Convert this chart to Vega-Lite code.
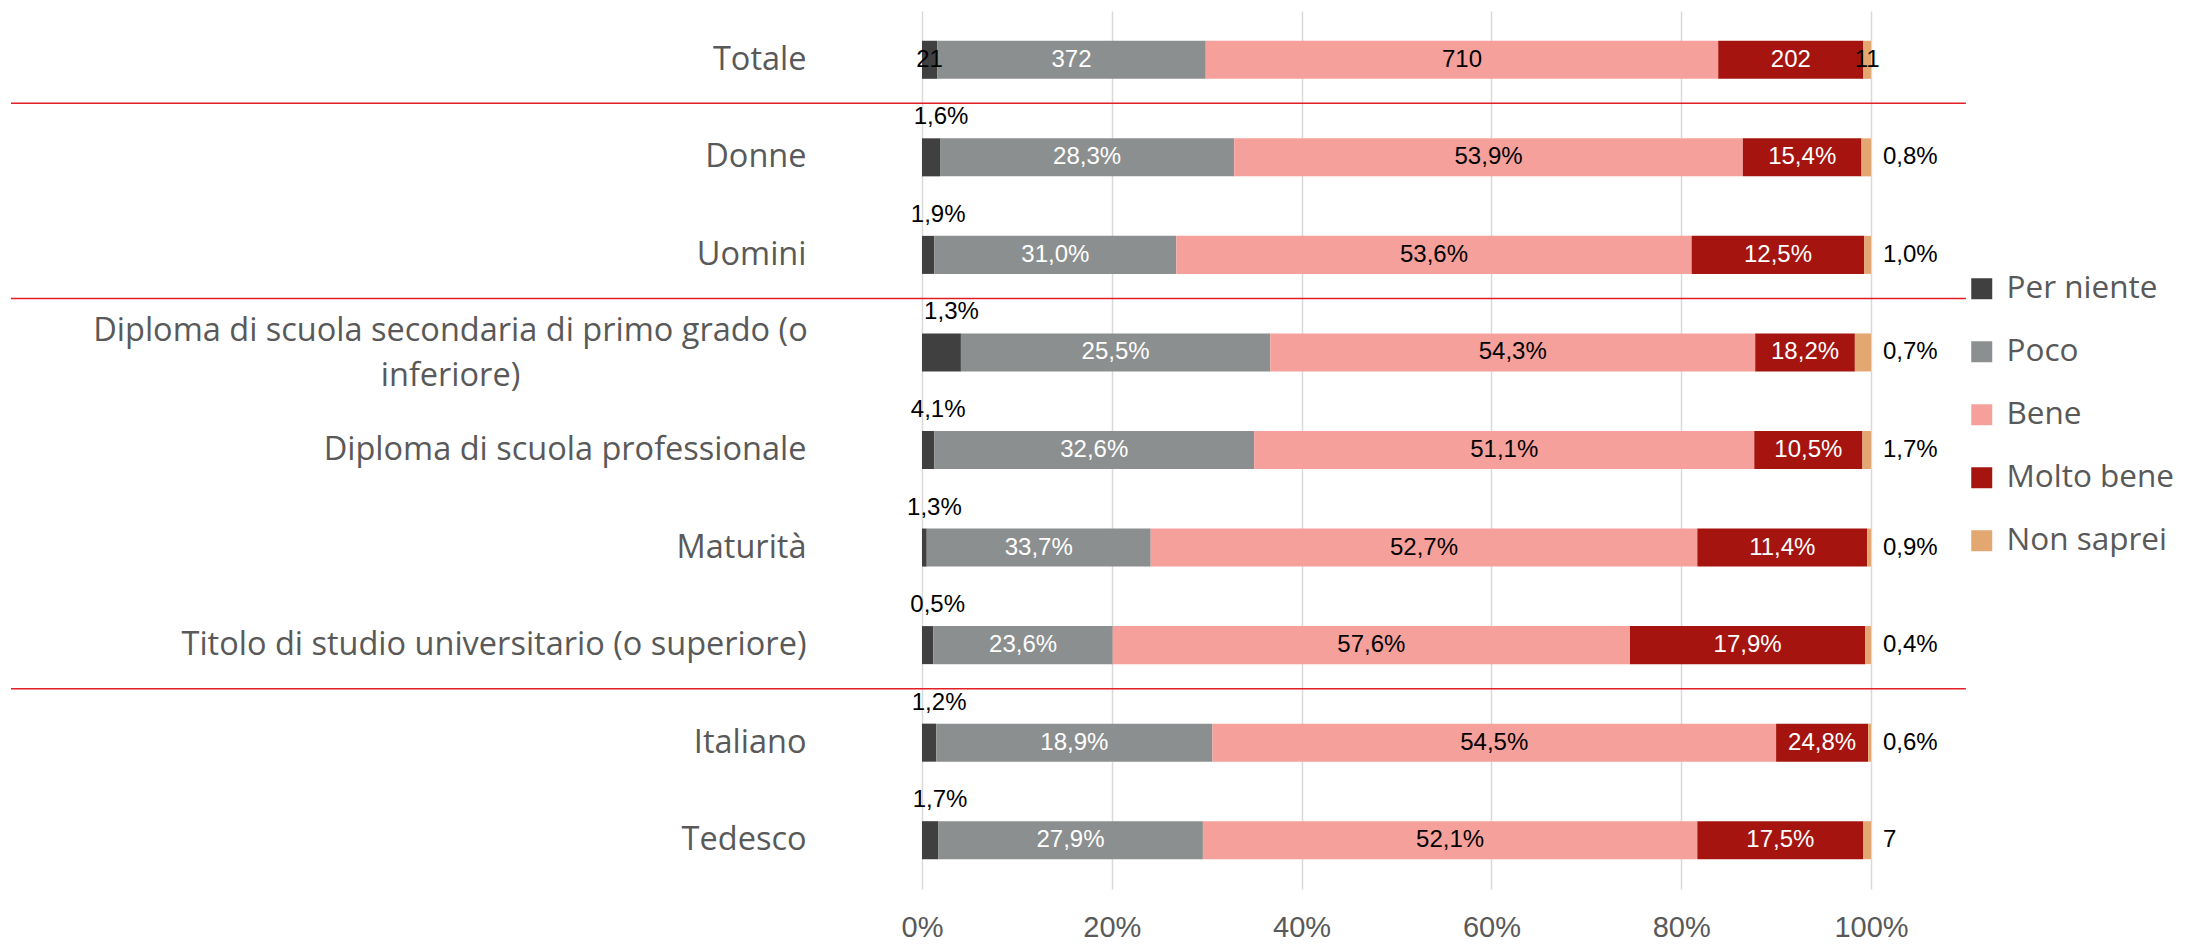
{
  "$schema": "https://vega.github.io/schema/vega-lite/v6.json",
  "width": 949,
  "height": 878,
  "autosize": {"type": "none"},
  "padding": {"left": 922, "top": 11, "right": 316, "bottom": 56},
  "background": "white",
  "config": {"view": {"stroke": null}, "font": "Open Sans"},
  "data": {"values": [
    {"cat": "Totale", "seg": "Per niente", "k": 1, "value": 1.6, "label": "21"},
    {"cat": "Totale", "seg": "Poco", "k": 2, "value": 28.3, "label": "372"},
    {"cat": "Totale", "seg": "Bene", "k": 3, "value": 54.0, "label": "710"},
    {"cat": "Totale", "seg": "Molto bene", "k": 4, "value": 15.3, "label": "202"},
    {"cat": "Totale", "seg": "Non saprei", "k": 5, "value": 0.8, "label": "11"},
    {"cat": "Donne", "seg": "Per niente", "k": 1, "value": 1.9, "label": "1,6%"},
    {"cat": "Donne", "seg": "Poco", "k": 2, "value": 31.0, "label": "28,3%"},
    {"cat": "Donne", "seg": "Bene", "k": 3, "value": 53.6, "label": "53,9%"},
    {"cat": "Donne", "seg": "Molto bene", "k": 4, "value": 12.5, "label": "15,4%"},
    {"cat": "Donne", "seg": "Non saprei", "k": 5, "value": 1.0, "label": "0,8%"},
    {"cat": "Uomini", "seg": "Per niente", "k": 1, "value": 1.3, "label": "1,9%"},
    {"cat": "Uomini", "seg": "Poco", "k": 2, "value": 25.5, "label": "31,0%"},
    {"cat": "Uomini", "seg": "Bene", "k": 3, "value": 54.3, "label": "53,6%"},
    {"cat": "Uomini", "seg": "Molto bene", "k": 4, "value": 18.2, "label": "12,5%"},
    {"cat": "Uomini", "seg": "Non saprei", "k": 5, "value": 0.7, "label": "1,0%"},
    {"cat": "Diploma di scuola secondaria di primo grado (o inferiore)", "seg": "Per niente", "k": 1, "value": 4.1, "label": "1,3%"},
    {"cat": "Diploma di scuola secondaria di primo grado (o inferiore)", "seg": "Poco", "k": 2, "value": 32.6, "label": "25,5%"},
    {"cat": "Diploma di scuola secondaria di primo grado (o inferiore)", "seg": "Bene", "k": 3, "value": 51.1, "label": "54,3%"},
    {"cat": "Diploma di scuola secondaria di primo grado (o inferiore)", "seg": "Molto bene", "k": 4, "value": 10.5, "label": "18,2%"},
    {"cat": "Diploma di scuola secondaria di primo grado (o inferiore)", "seg": "Non saprei", "k": 5, "value": 1.7, "label": "0,7%"},
    {"cat": "Diploma di scuola professionale", "seg": "Per niente", "k": 1, "value": 1.3, "label": "4,1%"},
    {"cat": "Diploma di scuola professionale", "seg": "Poco", "k": 2, "value": 33.7, "label": "32,6%"},
    {"cat": "Diploma di scuola professionale", "seg": "Bene", "k": 3, "value": 52.7, "label": "51,1%"},
    {"cat": "Diploma di scuola professionale", "seg": "Molto bene", "k": 4, "value": 11.4, "label": "10,5%"},
    {"cat": "Diploma di scuola professionale", "seg": "Non saprei", "k": 5, "value": 0.9, "label": "1,7%"},
    {"cat": "Maturità", "seg": "Per niente", "k": 1, "value": 0.5, "label": "1,3%"},
    {"cat": "Maturità", "seg": "Poco", "k": 2, "value": 23.6, "label": "33,7%"},
    {"cat": "Maturità", "seg": "Bene", "k": 3, "value": 57.6, "label": "52,7%"},
    {"cat": "Maturità", "seg": "Molto bene", "k": 4, "value": 17.9, "label": "11,4%"},
    {"cat": "Maturità", "seg": "Non saprei", "k": 5, "value": 0.4, "label": "0,9%"},
    {"cat": "Titolo di studio universitario (o superiore)", "seg": "Per niente", "k": 1, "value": 1.2, "label": "0,5%"},
    {"cat": "Titolo di studio universitario (o superiore)", "seg": "Poco", "k": 2, "value": 18.9, "label": "23,6%"},
    {"cat": "Titolo di studio universitario (o superiore)", "seg": "Bene", "k": 3, "value": 54.5, "label": "57,6%"},
    {"cat": "Titolo di studio universitario (o superiore)", "seg": "Molto bene", "k": 4, "value": 24.8, "label": "17,9%"},
    {"cat": "Titolo di studio universitario (o superiore)", "seg": "Non saprei", "k": 5, "value": 0.6, "label": "0,4%"},
    {"cat": "Italiano", "seg": "Per niente", "k": 1, "value": 1.5, "label": "1,2%"},
    {"cat": "Italiano", "seg": "Poco", "k": 2, "value": 29.1, "label": "18,9%"},
    {"cat": "Italiano", "seg": "Bene", "k": 3, "value": 59.4, "label": "54,5%"},
    {"cat": "Italiano", "seg": "Molto bene", "k": 4, "value": 9.7, "label": "24,8%"},
    {"cat": "Italiano", "seg": "Non saprei", "k": 5, "value": 0.3, "label": "0,6%"},
    {"cat": "Tedesco", "seg": "Per niente", "k": 1, "value": 1.7, "label": "1,7%"},
    {"cat": "Tedesco", "seg": "Poco", "k": 2, "value": 27.9, "label": "27,9%"},
    {"cat": "Tedesco", "seg": "Bene", "k": 3, "value": 52.1, "label": "52,1%"},
    {"cat": "Tedesco", "seg": "Molto bene", "k": 4, "value": 17.5, "label": "17,5%"},
    {"cat": "Tedesco", "seg": "Non saprei", "k": 5, "value": 0.8, "label": "7"}
  ]},
  "encoding": {
    "y": {
      "field": "cat", "type": "nominal",
      "sort": ["Totale", "Donne", "Uomini", "Diploma di scuola secondaria di primo grado (o inferiore)", "Diploma di scuola professionale", "Maturità", "Titolo di studio universitario (o superiore)", "Italiano", "Tedesco"],
      "scale": {"paddingInner": 0.61, "paddingOuter": 0.305},
      "axis": {
        "title": null, "domain": false, "ticks": false, "grid": false,
        "labelFont": "Open Sans", "labelFontSize": 32.5, "labelColor": "#595959",
        "labelLimit": 0, "labelLineHeight": 45,
        "labelExpr": "datum.value === 'Diploma di scuola secondaria di primo grado (o inferiore)' ? ['Diploma di scuola secondaria di primo grado (o', 'inferiore)'] : datum.label",
        "labelAlign": {"condition": {"test": "datum.value === 'Diploma di scuola secondaria di primo grado (o inferiore)'", "value": "center"}, "value": "right"},
        "labelPadding": {"condition": {"test": "datum.value === 'Diploma di scuola secondaria di primo grado (o inferiore)'", "value": 472}, "value": 116},
        "labelOffset": {"condition": {"test": "datum.value === 'Diploma di scuola secondaria di primo grado (o inferiore)'", "value": -21}, "value": 0}
      }
    }
  },
  "layer": [
    {
      "mark": {"type": "bar"},
      "encoding": {
        "x": {
          "field": "value", "type": "quantitative", "stack": "zero",
          "scale": {"domain": [0, 100], "nice": false},
          "axis": {
            "title": null, "values": [0, 20, 40, 60, 80, 100], "labelExpr": "datum.value + '%'",
            "domain": false, "ticks": false, "grid": true, "gridColor": "#d9d9d9", "gridWidth": 1.5,
            "labelFont": "Liberation Sans", "labelFontSize": 29, "labelColor": "#595959",
            "labelPadding": 24, "labelFlush": false
          }
        },
        "order": {"field": "k", "type": "quantitative"},
        "color": {
          "field": "seg", "type": "nominal",
          "scale": {"domain": ["Per niente", "Poco", "Bene", "Molto bene", "Non saprei"], "range": ["#404040", "#8c8f8f", "#f6a09b", "#a5140f", "#e3a872"]},
          "legend": {
            "title": null, "orient": "none", "legendX": 1044, "legendY": 262, "padding": 0,
            "symbolType": "square", "symbolSize": 441, "symbolStrokeWidth": 0, "symbolOpacity": 1,
            "labelFont": "Open Sans", "labelFontSize": 31.5, "labelColor": "#595959", "labelLimit": 400,
            "rowPadding": 30, "labelOffset": 9
          }
        }
      }
    },
    {
      "mark": {"type": "text", "font": "Liberation Sans", "fontSize": 24, "align": "center", "baseline": "middle"},
      "encoding": {
        "x": {"field": "value", "type": "quantitative", "stack": "zero", "bandPosition": 0.5},
        "order": {"field": "k", "type": "quantitative"},
        "detail": {"field": "seg", "type": "nominal"},
        "text": {"condition": {"test": "datum.cat === 'Totale' || datum.k === 2 || datum.k === 3 || datum.k === 4", "field": "label", "type": "nominal"}, "value": ""},
        "color": {"condition": {"test": "datum.k === 2 || datum.k === 4", "value": "#ffffff"}, "value": "#000000"}
      }
    },
    {
      "mark": {"type": "text", "font": "Liberation Sans", "fontSize": 24, "align": "center", "baseline": "middle", "dx": 10, "dy": -40, "color": "#000000"},
      "encoding": {
        "x": {"field": "value", "type": "quantitative", "stack": "zero", "bandPosition": 0.5},
        "order": {"field": "k", "type": "quantitative"},
        "detail": {"field": "seg", "type": "nominal"},
        "text": {"condition": {"test": "datum.cat !== 'Totale' && datum.k === 1", "field": "label", "type": "nominal"}, "value": ""}
      }
    },
    {
      "mark": {"type": "text", "font": "Liberation Sans", "fontSize": 24, "align": "left", "baseline": "middle", "dx": 12, "color": "#000000"},
      "encoding": {
        "x": {"field": "value", "type": "quantitative", "stack": "zero"},
        "order": {"field": "k", "type": "quantitative"},
        "detail": {"field": "seg", "type": "nominal"},
        "text": {"condition": {"test": "datum.cat !== 'Totale' && datum.k === 5", "field": "label", "type": "nominal"}, "value": ""}
      }
    },
    {
      "data": {"values": [
        {"cat": "Donne"},
        {"cat": "Diploma di scuola secondaria di primo grado (o inferiore)"},
        {"cat": "Italiano"}
      ]},
      "mark": {"type": "rule", "color": "#e31e24", "strokeWidth": 1.5},
      "encoding": {
        "y": {
          "field": "cat", "type": "nominal", "bandPosition": -0.92,
          "sort": ["Totale", "Donne", "Uomini", "Diploma di scuola secondaria di primo grado (o inferiore)", "Diploma di scuola professionale", "Maturità", "Titolo di studio universitario (o superiore)", "Italiano", "Tedesco"]
        },
        "x": {"datum": -96, "type": "quantitative"},
        "x2": {"datum": 110}
      }
    }
  ]
}
